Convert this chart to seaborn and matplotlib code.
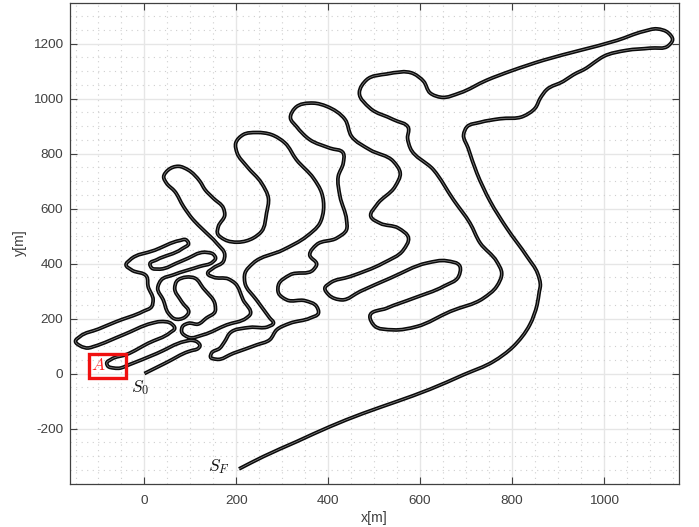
import matplotlib
matplotlib.use("Agg")
import numpy as np
import matplotlib.pyplot as plt
from matplotlib.patches import Rectangle
from matplotlib.patheffects import AbstractPathEffect
from matplotlib.path import Path
from matplotlib.ticker import MultipleLocator
from matplotlib.transforms import IdentityTransform
import seaborn as sns

track_x = [0,48,96,106,115,121,115,103,88,27,-38,-52,-66,-80,-82,-72,-38,8,56,66,59,34,16,-46,-111,-122,-140,-150,-140,-100,-61,-3,16,19,8,5,-28,-40,-31,23,77,90,96,81,27,12,16,30,82,135,150,155,148,121,63,37,29,41,52,66,88,96,81,66,70,92,110,128,154,154,135,117,96,83,81,96,128,179,222,230,215,197,183,150,138,150,172,175,157,128,
 106,85,66,48,42,52,74,95,121,132,150,172,175,161,159,175,204,237,255,266,270,255,223,202,199,215,244,277,306,331,368,386,390,382,353,302,237,219,219,
 244,273,281,270,230,186,175,164,146,144,157,194,244,273,288,317,361,379,375,350,310,292,292,
 317,368,375,360,375,419,440,440,426,422,433,433,404,360,331,318,328,368,397,437,451,491,542,557,546,506,493,513,553,575,564,520,448,404,
 393,401,430,470,535,615,658,687,684,651,586,528,491,499,542,593,666,738,767,778,767,731,709,673,629,579,573,575,542,491,468,484,528,586,608,622,
 647,687,745,800,869,949,1029,1087,1116,1141,1150,1141,1101,1050,1000,978,963,934,912,876,862,851,825,774,731,702,695,705,
 724,753,789,833,856,862,860,855,839,803,760,694,622,549,476,404,331,259,206]
track_y = [0,40,80,85,89,101,115,121,117,73,29,20,20,28,38,52,70,110,149,165,181,189,183,141,98,93,101,117,135,162,189,226,244,268,317,353,377,396,414,449,484,487,475,453,414,399,384,380,410,441,434,420,405,390,359,341,311,268,220,199,205,220,262,311,335,351,347,311,250,226,202,180,183,171,153,132,141,177,202,214,268,329,344,351,363,384,408,432,475,523,
 560,608,663,693,715,741,754,741,699,669,638,602,578,535,511,487,478,493,517,584,638,693,754,802,839,869,877,869,839,778,711,657,596,547,499,450,402,365,329,
 268,202,183,171,168,147,117,92,74,60,52,74,104,123,159,183,202,220,244,265,268,293,323,
 359,378,396,432,469,493,523,560,644,717,766,802,820,851,899,930,966,984,972,924,863,814,772,729,681,614,572,547,529,493,450,402,353,329,
 311,287,268,299,347,402,410,390,353,317,274,238,208,177,159,171,226,274,317,365,408,475,547,632,742,820,857,893,924,966,1021,1069,1090,1091,1063,1021,
 1005,1021,1067,1102,1140,1176,1212,1245,1254,1239,1215,1193,1184,1176,1154,1130,1112,1087,1063,1033,1002,966,936,927,914,897,869,820,
 729,626,529,426,365,317,300,250,177,98,44,-5,-57,-102,-145,-193,-248,-302,-347]
assert len(track_x) == len(track_y)

box_x, box_y, box_w, box_h = -120, -15, 81, 87
notes = [(-101, 30, r"$A$", "#ff2020"), (-10, -52, r"$S_0$", "#111111"), (162, -337, r"$S_F$", "#111111")]
x_ticks = [0, 200, 400, 600, 800, 1000]
y_ticks = [-200, 0, 200, 400, 600, 800, 1000, 1200]


class RoundedCorners(AbstractPathEffect):
    """Render a polyline as a smooth curve through its own vertices."""

    def draw_path(self, renderer, gc, tpath, affine, rgbFace=None):
        p = affine.transform(tpath.vertices)
        seg = np.diff(p, axis=0)
        d = np.hypot(seg[:, 0], seg[:, 1])
        keep = np.r_[True, d > 1e-6]
        p = p[keep]
        seg = np.diff(p, axis=0)
        d = np.hypot(seg[:, 0], seg[:, 1])
        u = seg / d[:, None]
        t = np.zeros_like(p)
        t[0], t[-1] = u[0], u[-1]
        w0, w1 = d[1:, None], d[:-1, None]
        t[1:-1] = u[:-1] * w0 + u[1:] * w1
        t /= np.maximum(np.hypot(t[:, 0], t[:, 1]), 1e-9)[:, None]
        verts = [p[0]]
        codes = [Path.MOVETO]
        for i in range(len(d)):
            verts += [p[i] + t[i] * d[i] / 3, p[i + 1] - t[i + 1] * d[i] / 3, p[i + 1]]
            codes += [Path.CURVE4] * 3
        renderer.draw_path(gc, Path(np.array(verts), codes), IdentityTransform(), None)


sns.set_theme(style="white")
plt.rcParams["font.family"] = ["Liberation Sans", "DejaVu Sans"]
plt.rcParams["mathtext.fontset"] = "cm"
plt.rcParams["axes.unicode_minus"] = False

fig = plt.figure(figsize=(6.99, 5.27), dpi=100)
ax = fig.add_axes([70/699, 1-483.5/527, 609/699, 481/527])

for colour, width, order in [("#0a0a0a", 2.7, 3), ("#8a8a8a", 0.5, 4)]:
    sns.lineplot(x=track_x, y=track_y, sort=False, estimator=None, color=colour, lw=width, ax=ax,
                 solid_joinstyle="round", solid_capstyle="butt", zorder=order)
    ax.lines[-1].set_path_effects([RoundedCorners()])

ax.set_xlim(-162, 1164)
ax.set_ylim(-400, 1350)
ax.set_xticks(x_ticks)
ax.set_yticks(y_ticks)
ax.xaxis.set_minor_locator(MultipleLocator(50))
ax.yaxis.set_minor_locator(MultipleLocator(50))
ax.grid(True, which="major", color="#e6e6e6", lw=1.0, zorder=0)
ax.grid(True, which="minor", color="#cfcfcf", lw=0.8, ls=(0, (1, 4)), zorder=0)
ax.set_axisbelow(True)
ax.tick_params(axis="both", which="major", direction="in", length=5, width=0.8, color="#404040",
               labelcolor="#404040", labelsize=9.7, top=True, right=True, bottom=True, left=True, pad=5)
ax.tick_params(axis="x", which="major", pad=8)
ax.tick_params(axis="both", which="minor", length=0)
for s in ax.spines.values():
    s.set_color("#404040")
    s.set_linewidth(0.9)
ax.set_xlabel("x[m]", fontsize=10.2, color="#404040", labelpad=3)
ax.set_ylabel("y[m]", fontsize=10.2, color="#404040", labelpad=4)

ax.add_patch(Rectangle((box_x, box_y), box_w, box_h, fill=False, ec="#f01010", lw=2.4, zorder=5))
for nx, ny, s, c in notes:
    ax.text(nx, ny, s, color=c, fontsize=12.5, ha="center", va="center", zorder=6)

fig.savefig("out.png", dpi=100)
